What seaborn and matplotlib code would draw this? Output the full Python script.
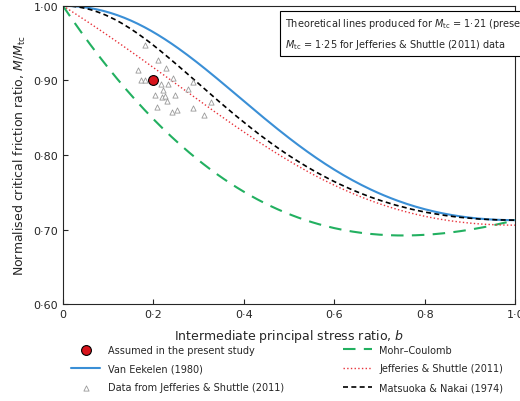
import numpy as np
import matplotlib
matplotlib.use("Agg")
import matplotlib.pyplot as plt
import seaborn as sns
from matplotlib.ticker import FuncFormatter

sns.set_style("ticks")
plt.rcParams['font.family'] = ['DejaVu Sans']

jefferies_b = [0.181, 0.21, 0.228, 0.166, 0.173, 0.181, 0.2, 0.243, 0.288, 0.277, 0.217, 0.232,
               0.221, 0.204, 0.219, 0.226, 0.23, 0.248, 0.208, 0.252, 0.241, 0.288, 0.312, 0.327]
jefferies_r = [0.948, 0.927, 0.917, 0.914, 0.90, 0.90, 0.90, 0.903, 0.898, 0.889, 0.895, 0.895,
               0.887, 0.88, 0.878, 0.879, 0.872, 0.88, 0.864, 0.86, 0.858, 0.863, 0.854, 0.871]
assumed_b = [0.2]
assumed_r = [0.90]
M_tc = 1.21
M_tc_js = 1.25

b = np.linspace(0, 1, 201)
theta = np.arctan((1 - 2 * b) / np.sqrt(3))

s = 3 * M_tc / (6 + M_tc)
R = (1 + s) / (1 - s)
def ratio_from_stress(s1, s2, s3):
    p = (s1 + s2 + s3) / 3
    q = np.sqrt(((s1 - s2)**2 + (s2 - s3)**2 + (s1 - s3)**2) / 2)
    return q / p
s2 = 1 + b * (R - 1)
mc = ratio_from_stress(R, s2, 1.0)
mc /= mc[0]

I1 = R + 2.0
K = I1 * (2 * R + 1) / R
mn = []
for bb in b:
    Rs = np.linspace(1.0001, 10, 20001)
    s2v = 1 + bb * (Rs - 1)
    f = (Rs + s2v + 1) * (Rs * s2v + s2v + Rs) / (Rs * s2v) - K
    i = np.argmin(np.abs(f))
    mn.append(ratio_from_stress(Rs[i], s2v[i], 1.0))
mn = np.array(mn) / mn[0]

Y = 0.3
Z = -np.log(mc[-1]) / np.log((1 + Y) / (1 - Y))
ve = ((1 - Y * np.sin(3 * theta)) / (1 - Y))**(-Z)

js = (M_tc_js - M_tc_js**2 / (3 + M_tc_js) * np.cos(1.5 * theta + np.pi / 4)) / M_tc_js

fig = plt.figure(figsize=(5.2, 4.02), dpi=100)
ax = fig.add_axes([0.121, 0.241, 0.870, 0.742])

h_ve, = ax.plot(b, ve, color='#3a8fd6', lw=1.5, label='Van Eekelen (1980)')
h_mc, = ax.plot(b, mc, color='#22b060', lw=1.5, ls=(0, (6, 4)), label='Mohr–Coulomb')
h_js, = ax.plot(b, js, color='#e8323a', lw=1.0, ls=':', label='Jefferies & Shuttle (2011)')
h_mn, = ax.plot(b, mn, color='black', lw=1.2, ls=(0, (3, 2)), label='Matsuoka & Nakai (1974)')
h_d = ax.scatter(jefferies_b, jefferies_r, marker='^', facecolors='white', edgecolors='#999999',
                 s=14, lw=0.6, zorder=3, label='Data from Jefferies & Shuttle (2011)')
h_a = ax.scatter(assumed_b, assumed_r, marker='o', color='#d8141c', edgecolors='black',
                 s=50, lw=0.8, zorder=4, label='Assumed in the present study')

ax.set_xlim(0, 1)
ax.set_ylim(0.6, 1.0)
ax.set_xticks([0, 0.2, 0.4, 0.6, 0.8, 1.0])
ax.set_yticks([0.6, 0.7, 0.8, 0.9, 1.0])
ax.xaxis.set_major_formatter(FuncFormatter(lambda v, p: '0' if v == 0 else ('1·0' if v == 1 else f'{v:.1f}'.replace('.', '·'))))
ax.yaxis.set_major_formatter(FuncFormatter(lambda v, p: f'{v:.2f}'.replace('.', '·')))
ax.tick_params(direction='in', labelsize=8)
ax.set_xlabel('Intermediate principal stress ratio, $b$', fontsize=9, labelpad=6)
ax.set_ylabel('Normalised critical friction ratio, $M/M_{\\mathrm{tc}}$', fontsize=9)

ax.text(0.49, 0.965,
        'Theoretical lines produced for $M_{\\mathrm{tc}}$ = 1·21 (present study)\n$M_{\\mathrm{tc}}$ = 1·25 for Jefferies & Shuttle (2011) data',
        transform=ax.transAxes, fontsize=7, va='top', ha='left', linespacing=1.7,
        bbox=dict(boxstyle='square,pad=0.5', fc='white', ec='black', lw=0.8))

fig.legend(handles=[h_a, h_ve, h_d, h_mc, h_js, h_mn], loc='lower left', ncol=2,
           bbox_to_anchor=(0.12, 0.0), frameon=False, fontsize=7, columnspacing=6,
           handlelength=3, labelspacing=0.9)
fig.savefig('out.png', dpi=100)
